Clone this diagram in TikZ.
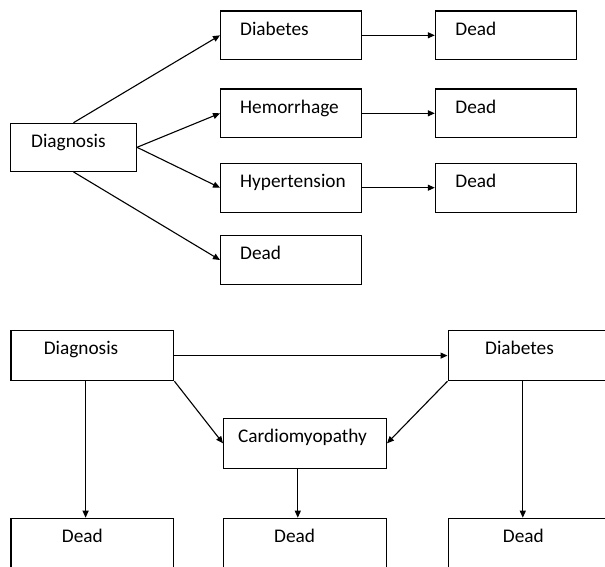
\documentclass[tikz,border=0pt]{standalone}
\usepackage{fontspec}
\setmainfont{Carlito}
\usetikzlibrary{arrows.meta,calc}
\begin{document}
\begin{tikzpicture}[x=1pt,y=-1pt,
 box/.style={draw, line width=1.2pt, fill=white, inner sep=0pt, anchor=north west},
 tb/.style={box, minimum width=140.7pt, minimum height=48.8pt},
 db/.style={box, minimum width=125.8pt, minimum height=48pt},
 bb/.style={box, minimum width=162.8pt, minimum height=50pt},
 lbl/.style={anchor=base west, inner sep=0pt, yshift=-24.8pt, font=\fontsize{19.3}{22}\selectfont},
 txt/.style 2 args={label={[lbl, xshift=#1pt]north west:#2}},
 arr/.style={line width=1.1pt, -{Triangle[length=7pt,width=6pt]}}
]
\useasboundingbox (0,0) rectangle (605,566);
\clip (0,0) rectangle (605,566);
% top diagram
\node[db, txt={21}{Diagnosis}] (dg) at (10,122.7) {};
\node[tb, txt={20}{Diabetes}] (diab) at (220,10.3) {};
\node[tb, txt={20}{Hemorrhage}] (hem) at (220,88.3) {};
\node[tb, txt={20}{Hypertension}] (hyp) at (220,162.7) {};
\node[tb, txt={20}{Dead}] (dead4) at (220,235) {};
\node[tb, txt={20.4}{Dead}] (d1) at (434.8,10.3) {};
\node[tb, txt={20.4}{Dead}] (d2) at (434.8,88.3) {};
\node[tb, txt={20.4}{Dead}] (d3) at (434.8,162.7) {};
\draw[arr] (dg.north) -- (diab.west);
\draw[arr] (dg.east) -- (hem.west);
\draw[arr] (dg.east) -- (hyp.west);
\draw[arr] (dg.south) -- (dead4.west);
\draw[arr] (diab.east) -- (d1.west);
\draw[arr] (hem.east) -- (d2.west);
\draw[arr] (hyp.east) -- (d3.west);
% bottom diagram
\node[bb, txt={33.2}{Diagnosis}] (dg2) at (10.4,330) {};
\node[bb, txt={37.5}{Diabetes}] (diab2) at (447.5,330) {};
\node[bb, txt={15}{Cardiomyopathy}] (card) at (223,417.7) {};
\node[bb, txt={51.3}{Dead}] (e1) at (10.4,517.7) {};
\node[bb, txt={51}{Dead}] (e2) at (223,517.7) {};
\node[bb, txt={55.2}{Dead}] (e3) at (447.5,517.7) {};
\draw[arr] (dg2.east) -- (diab2.west);
\draw[arr] (dg2.south east) -- (card.west);
\draw[arr] (diab2.south west) -- (card.east);
\draw[arr] ([xshift=75.2pt]dg2.south west) -- ([xshift=75.2pt]e1.north west);
\draw[arr] ([xshift=74.8pt]card.south west) -- ([xshift=74.8pt]e2.north west);
\draw[arr] ([xshift=75.3pt]diab2.south west) -- ([xshift=75.3pt]e3.north west);
\end{tikzpicture}
\end{document}
